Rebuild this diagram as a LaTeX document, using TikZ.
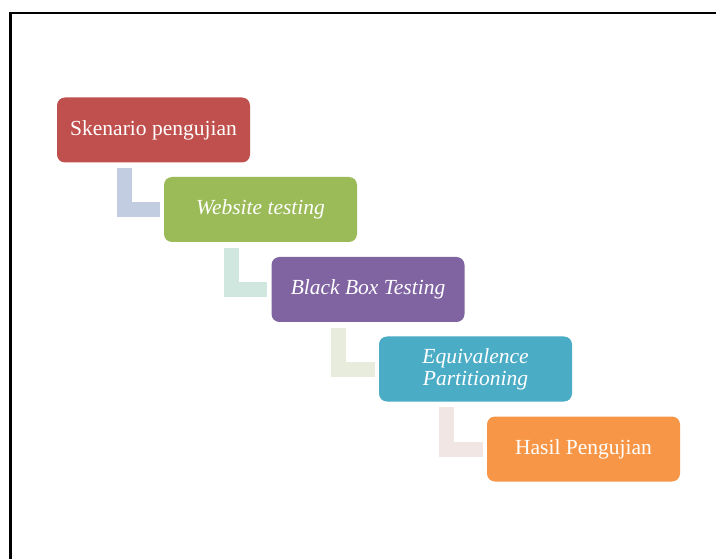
\documentclass[tikz,border=0pt]{standalone}
\usepackage{fontspec}
\setmainfont{Liberation Serif}
\usetikzlibrary{calc}
\definecolor{cRed}{HTML}{C0504D}
\definecolor{cGreen}{HTML}{9BBB59}
\definecolor{cPurple}{HTML}{8064A2}
\definecolor{cBlue}{HTML}{4BACC6}
\definecolor{cOrange}{HTML}{F79646}
\definecolor{lOne}{HTML}{C3CDE2}
\definecolor{lTwo}{HTML}{CFE7DF}
\definecolor{lThree}{HTML}{E8ECDD}
\definecolor{lFour}{HTML}{F2E6E5}
\tikzset{
  stepbox/.style={rounded corners=8pt, minimum width=193pt, minimum height=65pt,
    inner sep=0pt, text=white, align=center, font=\fontsize{21.5}{22}\selectfont},
  elbow/.style={line width=15pt, line join=miter, line cap=butt}
}
\begin{document}
\begin{tikzpicture}[x=1pt,y=-1pt]
\useasboundingbox (0,0) rectangle (716,559);
\clip (0,0) rectangle (716,559);
\fill[white] (0,0) rectangle (716,559);
\draw[line width=2.3pt] (10.5,13) rectangle (740,590);
\node[stepbox, fill=cRed]    (s1) at (153.5,130)   {\raisebox{-1.5pt}{Skenario pengujian}};
\node[stepbox, fill=cGreen]  (s2) at (260.5,209.5) {\raisebox{-1.5pt}{\itshape Website testing}};
\node[stepbox, fill=cPurple] (s3) at (368,289.5)   {\raisebox{-1.5pt}{\itshape Black Box Testing}};
\node[stepbox, fill=cBlue]   (s4) at (475.5,369)   {\itshape Equivalence\\\itshape Partitioning};
\node[stepbox, fill=cOrange] (s5) at (583.5,449)   {\raisebox{-1.5pt}{Hasil Pengujian}};
\draw[elbow, lOne]   ($(s1.south west)+(67.5,5.5)$) |- ($(s2.west)+(-4,0)$);
\draw[elbow, lTwo]   ($(s2.south west)+(67.5,5.5)$) |- ($(s3.west)+(-4,0)$);
\draw[elbow, lThree] ($(s3.south west)+(67.5,5.5)$) |- ($(s4.west)+(-4,0)$);
\draw[elbow, lFour]  ($(s4.south west)+(67.5,5.5)$) |- ($(s5.west)+(-4,0)$);
\end{tikzpicture}
\end{document}
